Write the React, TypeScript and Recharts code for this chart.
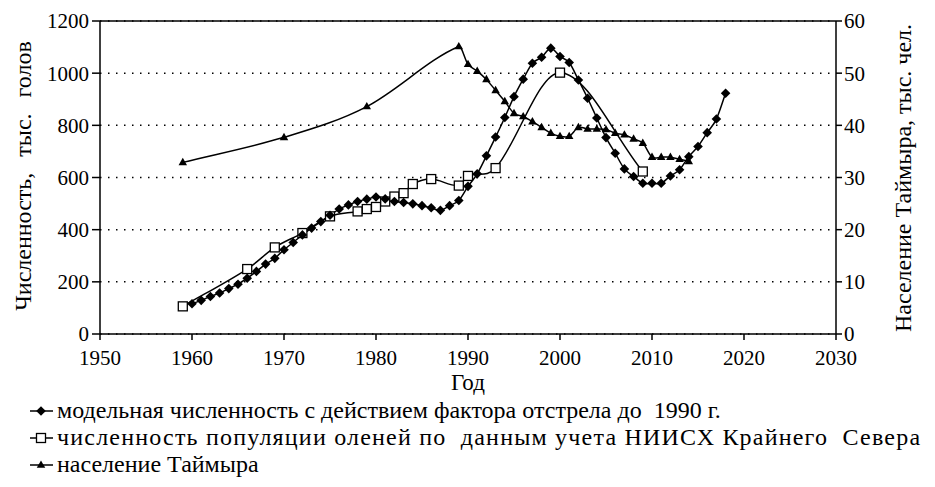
import { LineChart, Line, XAxis, YAxis, CartesianGrid, ReferenceLine } from 'recharts'

const FONT = '"Liberation Serif", "Times New Roman", "DejaVu Serif", serif'

// модельная численность (тыс. голов)
const modelYears = [
  1960, 1961, 1962, 1963, 1964, 1965, 1966, 1967, 1968, 1969,
  1970, 1971, 1972, 1973, 1974, 1975, 1976, 1977, 1978, 1979,
  1980, 1981, 1982, 1983, 1984, 1985, 1986, 1987, 1988, 1989,
  1990, 1991, 1992, 1993, 1994, 1995, 1996, 1997, 1998, 1999,
  2000, 2001, 2002, 2003, 2004, 2005, 2006, 2007, 2008, 2009,
  2010, 2011, 2012, 2013, 2014, 2015, 2016, 2017, 2018,
]
const modelValues = [
  116, 129, 144, 157, 174, 191, 214, 240, 268, 290,
  323, 351, 380, 406, 431, 455, 479, 495, 508, 517,
  525, 518, 508, 504, 499, 492, 484, 474, 492, 512,
  566, 614, 683, 755, 830, 910, 977, 1038, 1061, 1096,
  1064, 1041, 974, 904, 828, 753, 693, 633, 604, 578,
  578, 578, 606, 630, 680, 719, 772, 824, 923,
]

// данные учета НИИСХ Крайнего Севера (тыс. голов)
const surveyYears = [1959, 1966, 1969, 1972, 1975, 1978, 1979, 1980, 1981, 1982, 1983, 1984, 1986, 1989, 1990, 1993, 2000, 2009]
const surveyValues = [106, 249, 332, 387, 451, 470, 479, 487, 508, 527, 540, 575, 594, 569, 606, 636, 1002, 623]

// население Таймыра (тыс. чел.)
const popYears = [
  1959, 1970, 1979, 1989, 1990, 1991, 1992, 1993, 1994, 1995,
  1996, 1997, 1998, 1999, 2000, 2001, 2002, 2003, 2004, 2005,
  2006, 2007, 2008, 2009, 2010, 2011, 2012, 2013, 2014,
]
const popValues = [
  32.9, 37.7, 43.6, 55.1, 51.7, 50.4, 48.8, 46.7, 44.6, 42.3,
  41.7, 40.7, 39.6, 38.5, 37.9, 37.9, 39.6, 39.3, 39.3, 39.2,
  38.5, 38.2, 37.4, 36.6, 33.9, 33.9, 33.9, 33.5, 33.1,
]

const xTicks = [1950, 1960, 1970, 1980, 1990, 2000, 2010, 2020, 2030]
const leftTicks = [0, 200, 400, 600, 800, 1000, 1200]
const rightTicks = [0, 10, 20, 30, 40, 50, 60]

const legendLabels = [
  'модельная численность с действием фактора отстрела до  1990 г.',
  'численность популяции оленей по  данным учета НИИСХ Крайнего  Севера',
  'население Таймыра',
]
const legendLetterSpacing = [0, 1.2, 0]

const modelData = modelYears.map((year, i) => ({ year, value: modelValues[i] }))
const surveyData = surveyYears.map((year, i) => ({ year, value: surveyValues[i] }))
const popData = popYears.map((year, i) => ({ year, value: popValues[i] }))

// smooth line like the spreadsheet one: cubic Hermite with central-difference slopes
function smoothCurve(context: any) {
  let pts: [number, number][] = []
  return {
    areaStart() {},
    areaEnd() {},
    lineStart() {
      pts = []
    },
    point(x: number, y: number) {
      pts.push([+x, +y])
    },
    lineEnd() {
      const n = pts.length
      if (!n) return
      context.moveTo(pts[0][0], pts[0][1])
      if (n === 1) return
      const slope = (i: number) => {
        const a = pts[Math.max(i - 1, 0)]
        const b = pts[Math.min(i + 1, n - 1)]
        return (b[1] - a[1]) / (b[0] - a[0])
      }
      for (let i = 0; i < n - 1; i++) {
        const [x0, y0] = pts[i]
        const [x1, y1] = pts[i + 1]
        const h = (x1 - x0) / 3
        context.bezierCurveTo(x0 + h, y0 + slope(i) * h, x1 - h, y1 - slope(i + 1) * h, x1, y1)
      }
    },
  }
}

const tickStyle = { fill: '#000', fontSize: 21, fontFamily: FONT }
const axisLine = { stroke: '#000', strokeWidth: 1.5 }

function Diamond({ cx, cy, r = 4.8 }: { cx: number; cy: number; r?: number }) {
  return <polygon points={`${cx},${cy - r} ${cx + r},${cy} ${cx},${cy + r} ${cx - r},${cy}`} fill="#000" />
}
function Square({ cx, cy, s = 9 }: { cx: number; cy: number; s?: number }) {
  return <rect x={cx - s / 2} y={cy - s / 2} width={s} height={s} fill="#fff" stroke="#000" strokeWidth={1.3} />
}
function Triangle({ cx, cy, s = 8.5 }: { cx: number; cy: number; s?: number }) {
  const h = s * 0.87
  return <polygon points={`${cx},${cy - h * 0.62} ${cx + s / 2},${cy + h * 0.38} ${cx - s / 2},${cy + h * 0.38}`} fill="#000" />
}

const markers = [Diamond, Square, Triangle]

function LegendRow({ index, label }: { index: number; label: string }) {
  const M = markers[index]
  return (
    <div style={{ position: 'absolute', left: 28, top: 397 + index * 27, height: 27, display: 'flex', alignItems: 'center', whiteSpace: 'pre' }}>
      <svg width={28} height={14}>
        <line x1={2} x2={25} y1={7} y2={7} stroke="#000" strokeWidth={1.5} />
        <M cx={13} cy={7} />
      </svg>
      <span style={{ fontFamily: FONT, fontSize: 24, lineHeight: '27px', marginLeft: 1, color: '#000', letterSpacing: legendLetterSpacing[index] }}>{label}</span>
    </div>
  )
}

export default function App() {
  return (
    <div style={{ position: 'absolute', left: 0, top: 0, width: 935, height: 487, background: '#fff', fontFamily: FONT }}>
      <LineChart width={935} height={487} margin={{ top: 21, right: 0, bottom: 93, left: 0 }} style={{ fontFamily: FONT }}>
        <CartesianGrid vertical={false} stroke="#000" strokeDasharray="1.5 6.5" strokeWidth={1.5} yAxisId="left" />
        <XAxis
          type="number"
          dataKey="year"
          domain={[1950, 2030]}
          ticks={xTicks}
          allowDataOverflow
          height={60}
          tickSize={6}
          tickMargin={10}
          tick={tickStyle}
          tickLine={axisLine}
          axisLine={axisLine}
          label={{
            content: () => (
              <text x={468} y={390} textAnchor="middle" fontFamily={FONT} fontSize={23} fill="#000">Год</text>
            ),
          }}
        />
        <YAxis
          yAxisId="left"
          domain={[0, 1200]}
          ticks={leftTicks}
          width={100}
          tickSize={8}
          tickMargin={3}
          tick={tickStyle}
          tickLine={axisLine}
          axisLine={axisLine}
          label={{
            content: () => (
              <text x={31} y={176} transform="rotate(-90 31 176)" textAnchor="middle" fontFamily={FONT} fontSize={24} wordSpacing={10} fill="#000">
                Численность, тыс. голов
              </text>
            ),
          }}
        />
        <YAxis
          yAxisId="right"
          orientation="right"
          domain={[0, 60]}
          ticks={rightTicks}
          width={99}
          tickSize={6}
          tickMargin={2}
          tick={tickStyle}
          tickLine={axisLine}
          axisLine={axisLine}
          label={{
            content: () => (
              <text x={911} y={178} transform="rotate(-90 911 178)" textAnchor="middle" fontFamily={FONT} fontSize={24} fill="#000">
                Население Таймыра, тыс. чел.
              </text>
            ),
          }}
        />
        <ReferenceLine yAxisId="left" y={1200} stroke="#000" strokeWidth={1.5} />
        <Line
          yAxisId="right"
          data={popData}
          dataKey="value"
          type={smoothCurve as any}
          stroke="#000"
          strokeWidth={1.5}
          isAnimationActive={false}
          dot={(p: any) => <Triangle key={`t-${p.index}`} cx={p.cx} cy={p.cy} />}
        />
        <Line
          yAxisId="left"
          data={surveyData}
          dataKey="value"
          type={smoothCurve as any}
          stroke="#000"
          strokeWidth={1.5}
          isAnimationActive={false}
          dot={(p: any) => <Square key={`s-${p.index}`} cx={p.cx} cy={p.cy} />}
        />
        <Line
          yAxisId="left"
          data={modelData}
          dataKey="value"
          type={smoothCurve as any}
          stroke="#000"
          strokeWidth={1.5}
          isAnimationActive={false}
          dot={(p: any) => <Diamond key={`d-${p.index}`} cx={p.cx} cy={p.cy} />}
        />
      </LineChart>
      {legendLabels.map((label, i) => (
        <LegendRow key={label} index={i} label={label} />
      ))}
    </div>
  )
}
